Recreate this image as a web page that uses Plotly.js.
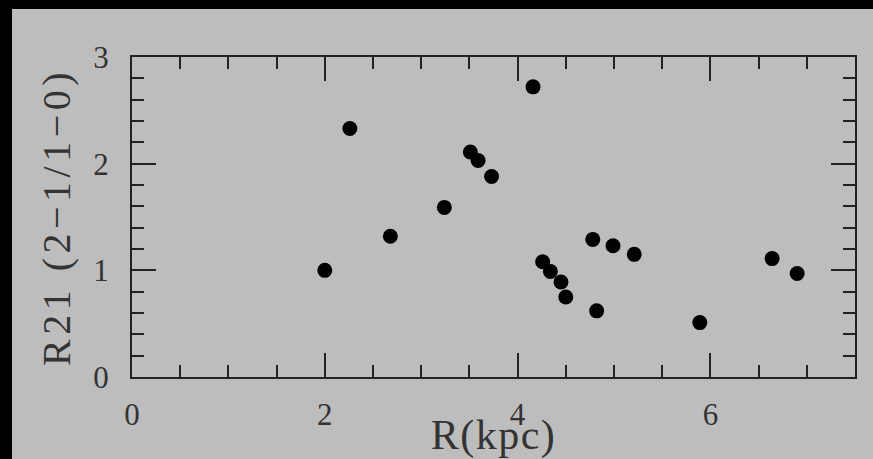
<!DOCTYPE html>
<html>
<head>
<meta charset="utf-8">
<script src="https://cdn.plot.ly/plotly-3.0.1.min.js"></script>
<style>
  html { margin: 0; padding: 0; background: #bdbdbd; overflow: hidden; }
  body { margin: 0; padding: 0; background: #bdbdbd; width: 873px; height: 459px; overflow: hidden; }
  #chart { position: absolute; left: 0; top: 0; width: 873px; height: 459px; }
  #barTop { position: absolute; left: 0; top: 0; width: 873px; height: 9px; background: #000; z-index: 5; }
  #barLeft { position: absolute; left: 0; top: 0; width: 12px; height: 459px; background: #000; z-index: 5; }
  .xtitle { letter-spacing: 1.5px; }
  .ytitle { letter-spacing: 4.5px; }
</style>
</head>
<body>
<div id="chart"></div>
<div id="barTop"></div>
<div id="barLeft"></div>
<script>
// Data
const radiusKpc = [2.00, 2.26, 2.68, 3.24, 3.51, 3.59, 3.73, 4.16, 4.26, 4.34, 4.45, 4.50, 4.78, 4.82, 4.99, 5.21, 5.89, 6.64, 6.90];
const ratioR21  = [1.00, 2.33, 1.32, 1.59, 2.11, 2.03, 1.88, 2.72, 1.08, 0.99, 0.89, 0.75, 1.29, 0.62, 1.23, 1.15, 0.51, 1.11, 0.97];
const xTickVals = [0, 2, 4, 6];
const yTickVals = [0, 1, 2, 3];
const xTitle = "R(kpc)";
const yTitle = "R21 (2\u22121/1\u22120)";

const textColor = "#333333";
const lineColor = "#222222";
const serif = "Liberation Serif, Times New Roman, serif";

const trace = {
  x: radiusKpc,
  y: ratioR21,
  type: "scatter",
  mode: "markers",
  marker: { color: "#000000", size: 15, line: { width: 0 } },
  hoverinfo: "x+y"
};

const axisCommon = {
  showgrid: false,
  zeroline: false,
  showline: true,
  linecolor: lineColor,
  linewidth: 2,
  mirror: "ticks",
  ticks: "inside",
  ticklen: 24,
  tickwidth: 2,
  tickcolor: lineColor,
  tickfont: { family: serif, size: 31, color: textColor },
  tickmode: "array"
};

const layout = {
  width: 873,
  height: 459,
  paper_bgcolor: "#bdbdbd",
  plot_bgcolor: "#bdbdbd",
  margin: { l: 132, r: 18, t: 57, b: 82 },
  showlegend: false,
  xaxis: Object.assign({}, axisCommon, {
    range: [0, 7.5],
    tickvals: xTickVals,
    ticktext: xTickVals.map(String),
    ticklabelstandoff: 9,
    minor: { dtick: 0.5, ticks: "inside", ticklen: 12, tickwidth: 2, tickcolor: lineColor, showgrid: false },
    title: { text: xTitle, font: { family: serif, size: 42, color: textColor }, standoff: 0 }
  }),
  yaxis: Object.assign({}, axisCommon, {
    range: [0, 3],
    tickvals: yTickVals,
    ticktext: yTickVals.map(String),
    ticklabelstandoff: 15,
    minor: { dtick: 0.2, ticks: "inside", ticklen: 12, tickwidth: 2, tickcolor: lineColor, showgrid: false },
    title: { text: yTitle, font: { family: serif, size: 40, color: textColor }, standoff: 10 }
  })
};

Plotly.newPlot("chart", [trace], layout, { displayModeBar: false, staticPlot: true });
</script>
</body>
</html>
